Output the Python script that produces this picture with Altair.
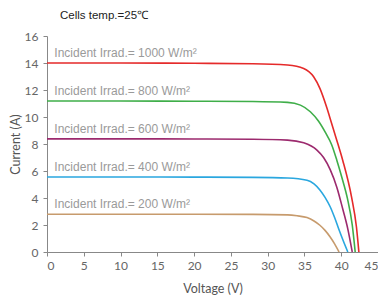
import altair as alt
import pandas as pd

series = ["1000", "800", "600", "400", "200"]
colors = ["#e52a2a", "#3fae49", "#9c2a6e", "#2aa7df", "#c79b6d"]

v1000 = [0, 10, 20, 28, 32.7, 34.9, 36.25, 37.1, 38.0, 38.7, 39.3, 40.2, 41.4, 42.07, 42.4]
i1000 = [14.0, 14.0, 13.98, 13.95, 13.85, 13.6, 12.98, 12.12, 10.76, 9.52, 8.45, 6.8, 4.08, 1.85, 0]
v800 = [0, 10, 20, 28, 32.7, 34.45, 35.8, 36.9, 37.9, 38.7, 39.4, 40.1, 40.85, 41.5, 41.9]
i800 = [11.18, 11.18, 11.17, 11.15, 11.08, 10.88, 10.39, 9.7, 8.8, 7.95, 6.8, 5.5, 3.95, 2.0, 0]
v600 = [0, 10, 20, 28, 32.7, 34.9, 36.7, 37.6, 38.5, 39.4, 40.2, 40.9, 41.5]
i600 = [8.38, 8.38, 8.37, 8.35, 8.29, 8.09, 7.55, 7.0, 6.1, 4.8, 3.2, 1.7, 0]
v400 = [0, 10, 20, 28, 32.7, 35.35, 36.3, 37.1, 37.8, 38.5, 39.1, 39.6, 40.3, 40.9]
i400 = [5.56, 5.56, 5.55, 5.53, 5.48, 5.32, 5.05, 4.6, 4.05, 3.35, 2.55, 1.8, 0.8, 0]
v200 = [0, 10, 20, 28, 32.7, 34, 35.35, 36.3, 37.1, 37.8, 38.5, 39.1, 39.7]
i200 = [2.8, 2.8, 2.8, 2.79, 2.75, 2.68, 2.55, 2.3, 1.98, 1.6, 1.11, 0.6, 0]

label_texts = ["Incident Irrad.= 1000 W/m²", "Incident Irrad.= 800 W/m²",
               "Incident Irrad.= 600 W/m²", "Incident Irrad.= 400 W/m²",
               "Incident Irrad.= 200 W/m²"]

x_ticks = [0, 5, 10, 15, 20, 25, 30, 35, 40, 45]
y_ticks = [0, 2, 4, 6, 8, 10, 12, 14, 16]

curves = {"1000": (v1000, i1000), "800": (v800, i800), "600": (v600, i600),
          "400": (v400, i400), "200": (v200, i200)}

rows = []
for s in series:
    vs, is_ = curves[s]
    for v, i in zip(vs, is_):
        rows.append({"series": s, "V": v, "I": i})
df = pd.DataFrame(rows)

lab = pd.DataFrame({"series": series, "text": label_texts,
                    "V": [1.0] * 5, "I": [curves[s][1][0] for s in series]})

xs = alt.Scale(domain=[0, 45], nice=False)
ys = alt.Scale(domain=[0, 16], nice=False)
cs = alt.Scale(domain=series, range=colors)
xax = alt.Axis(values=x_ticks, labelOverlap=False)
yax = alt.Axis(values=y_ticks, labelOverlap=False)

lines = alt.Chart(df).mark_line(interpolate="monotone", strokeWidth=1.6).encode(
    x=alt.X("V:Q", scale=xs, title="Voltage (V)", axis=xax),
    y=alt.Y("I:Q", scale=ys, title="Current (A)", axis=yax),
    color=alt.Color("series:N", scale=cs, legend=None),
    detail="series:N",
)

labels = alt.Chart(lab).mark_text(align="left", baseline="alphabetic", dy=-6,
                                  fontSize=12, color="#9a9a9a", font="Liberation Sans").encode(
    x=alt.X("V:Q", scale=xs, title="Voltage (V)", axis=xax),
    y=alt.Y("I:Q", scale=ys, title="Current (A)", axis=yax),
    text="text:N",
)

chart = (lines + labels).properties(
    width=331, height=216,
    autosize=alt.AutoSizeParams(type="none"),
    padding={"left": 39, "top": 28, "right": 0, "bottom": 44},
    title=alt.TitleParams("Cells temp.=25℃", anchor="start", frame="group", dx=13,
                          offset=9, fontSize=11.5, fontWeight="normal", color="#222",
                          font="Liberation Sans"),
).configure_view(stroke=None).configure_axis(
    grid=False, domainColor="#888", tickColor="#888", tickSize=4,
    labelColor="#666", labelFontSize=12, labelFont="Lato",
    titleColor="#555", titleFontSize=12.5, titleFontWeight="normal", titleFont="Lato",
).configure_axisY(labelPadding=5, titlePadding=2).configure_axisX(labelPadding=4, titlePadding=11)

chart.save("out.html", embed_options={"renderer": "svg", "actions": False})
